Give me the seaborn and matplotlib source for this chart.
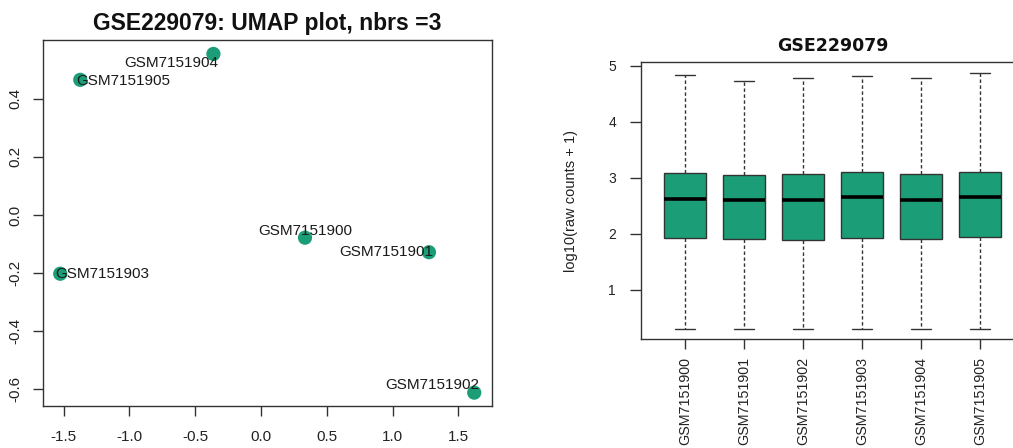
import matplotlib
matplotlib.use("Agg")
import matplotlib.pyplot as plt
import seaborn as sns
import pandas as pd

# ---------------- data ----------------
samples = ["GSM7151900", "GSM7151901", "GSM7151902", "GSM7151903", "GSM7151904", "GSM7151905"]

# UMAP coordinates
umap_x = [0.335, 1.277, 1.621, -1.525, -0.361, -1.373]
umap_y = [-0.078, -0.128, -0.611, -0.202, 0.554, 0.465]

# label offsets in points (label placement as in reference)
label_dx = [0, -30.5, -30.0, 30.5, -30.6, 31.0]
label_dy = [5.0, 0.0, 5.3, 0.0, -6.3, -0.5]

# boxplot statistics, log10(raw counts + 1)
whisker_low = [0.301, 0.301, 0.301, 0.301, 0.301, 0.301]
q1 = [1.933, 1.904, 1.886, 1.933, 1.909, 1.940]
median = [2.620, 2.602, 2.600, 2.655, 2.610, 2.655]
q3 = [3.087, 3.058, 3.060, 3.112, 3.070, 3.112]
whisker_high = [4.835, 4.734, 4.787, 4.822, 4.787, 4.864]

GREEN = "#1B9E77"
EDGE = "#333333"

sns.set_theme(style="white")
plt.rcParams["font.family"] = ["Liberation Sans", "DejaVu Sans"]
plt.rcParams["axes.unicode_minus"] = False

fig = plt.figure(figsize=(10.13, 4.48), dpi=100)

# ---------------- left: UMAP ----------------
ax1 = fig.add_axes([43 / 1013, 42 / 448, 449 / 1013, 366 / 448])
umap_df = pd.DataFrame({"x": umap_x, "y": umap_y, "sample": samples})
sns.scatterplot(data=umap_df, x="x", y="y", ax=ax1, color=GREEN, s=105,
                edgecolor="none", linewidth=0, zorder=2)
for sx, sy, lab, dx, dy in zip(umap_x, umap_y, samples, label_dx, label_dy):
    ax1.annotate(lab, (sx, sy), xytext=(dx, dy), textcoords="offset points",
                 ha="center", va="center", fontsize=11, color="#1a1a1a", zorder=3)
ax1.set_xlim(-1.656, 1.756)
ax1.set_ylim(-0.657, 0.602)
ax1.set_xticks([-1.5, -1.0, -0.5, 0.0, 0.5, 1.0, 1.5])
ax1.set_xticklabels(["-1.5", "-1.0", "-0.5", "0.0", "0.5", "1.0", "1.5"])
ax1.set_yticks([-0.6, -0.4, -0.2, 0.0, 0.2, 0.4])
ax1.set_yticklabels(["-0.6", "-0.4", "-0.2", "0.0", "0.2", "0.4"], rotation=90, va="center")
ax1.set_xlabel("")
ax1.set_ylabel("")
ax1.tick_params(axis="x", length=7, width=1, color=EDGE, pad=10, labelsize=11, labelcolor="#222222")
ax1.tick_params(axis="y", length=7, width=1, color=EDGE, pad=8, labelsize=11, labelcolor="#222222")
ax1.tick_params(bottom=True, left=True)
for sp in ax1.spines.values():
    sp.set_color(EDGE)
    sp.set_linewidth(1.0)
ax1.set_title("GSE229079: UMAP plot, nbrs =3", fontsize=16.5, fontweight="bold",
              color="#111111", pad=7)

# ---------------- right: boxplot ----------------
ax2 = fig.add_axes([641 / 1013, 108.7 / 448, 383 / 1013, 277 / 448])
rows = []
for i, s in enumerate(samples):
    for v in (whisker_low[i], q1[i], median[i], q3[i], whisker_high[i]):
        rows.append({"sample": s, "value": v})
box_df = pd.DataFrame(rows)
sns.boxplot(data=box_df, x="sample", y="value", ax=ax2, order=samples,
            color=GREEN, saturation=1, width=0.71, whis=(0, 100),
            linecolor=EDGE, linewidth=1.0, showfliers=False,
            whiskerprops={"linestyle": (0, (2.5, 1.8)), "color": "#333333", "linewidth": 1.0},
            capprops={"color": "#333333", "linewidth": 1.0},
            medianprops={"color": "black", "linewidth": 2.6})
ax2.set_xlim(-0.746, 5.746)
ax2.set_ylim(0.12, 5.06)
ax2.set_yticks([1, 2, 3, 4, 5])
ax2.set_yticklabels(["1", "2", "3", "4", "5"])
ax2.set_xticks(range(len(samples)))
ax2.set_xticklabels(samples, rotation=90, va="top", ha="center")
ax2.set_xlabel("")
ax2.set_ylabel("log10(raw counts + 1)", fontsize=10.5, labelpad=22, color="#222222")
ax2.tick_params(axis="x", length=7, width=1, color=EDGE, pad=6, labelsize=10.3, labelcolor="#222222")
ax2.tick_params(axis="y", length=8, width=1, color=EDGE, pad=10, labelsize=10, labelcolor="#222222")
ax2.tick_params(bottom=True, left=True)
for sp in ax2.spines.values():
    sp.set_color(EDGE)
    sp.set_linewidth(1.0)
ax2.set_title("GSE229079", fontsize=12.5, fontweight="bold", color="#111111", pad=8,
              family=["DejaVu Sans"])

fig.savefig("out.png", dpi=100)
